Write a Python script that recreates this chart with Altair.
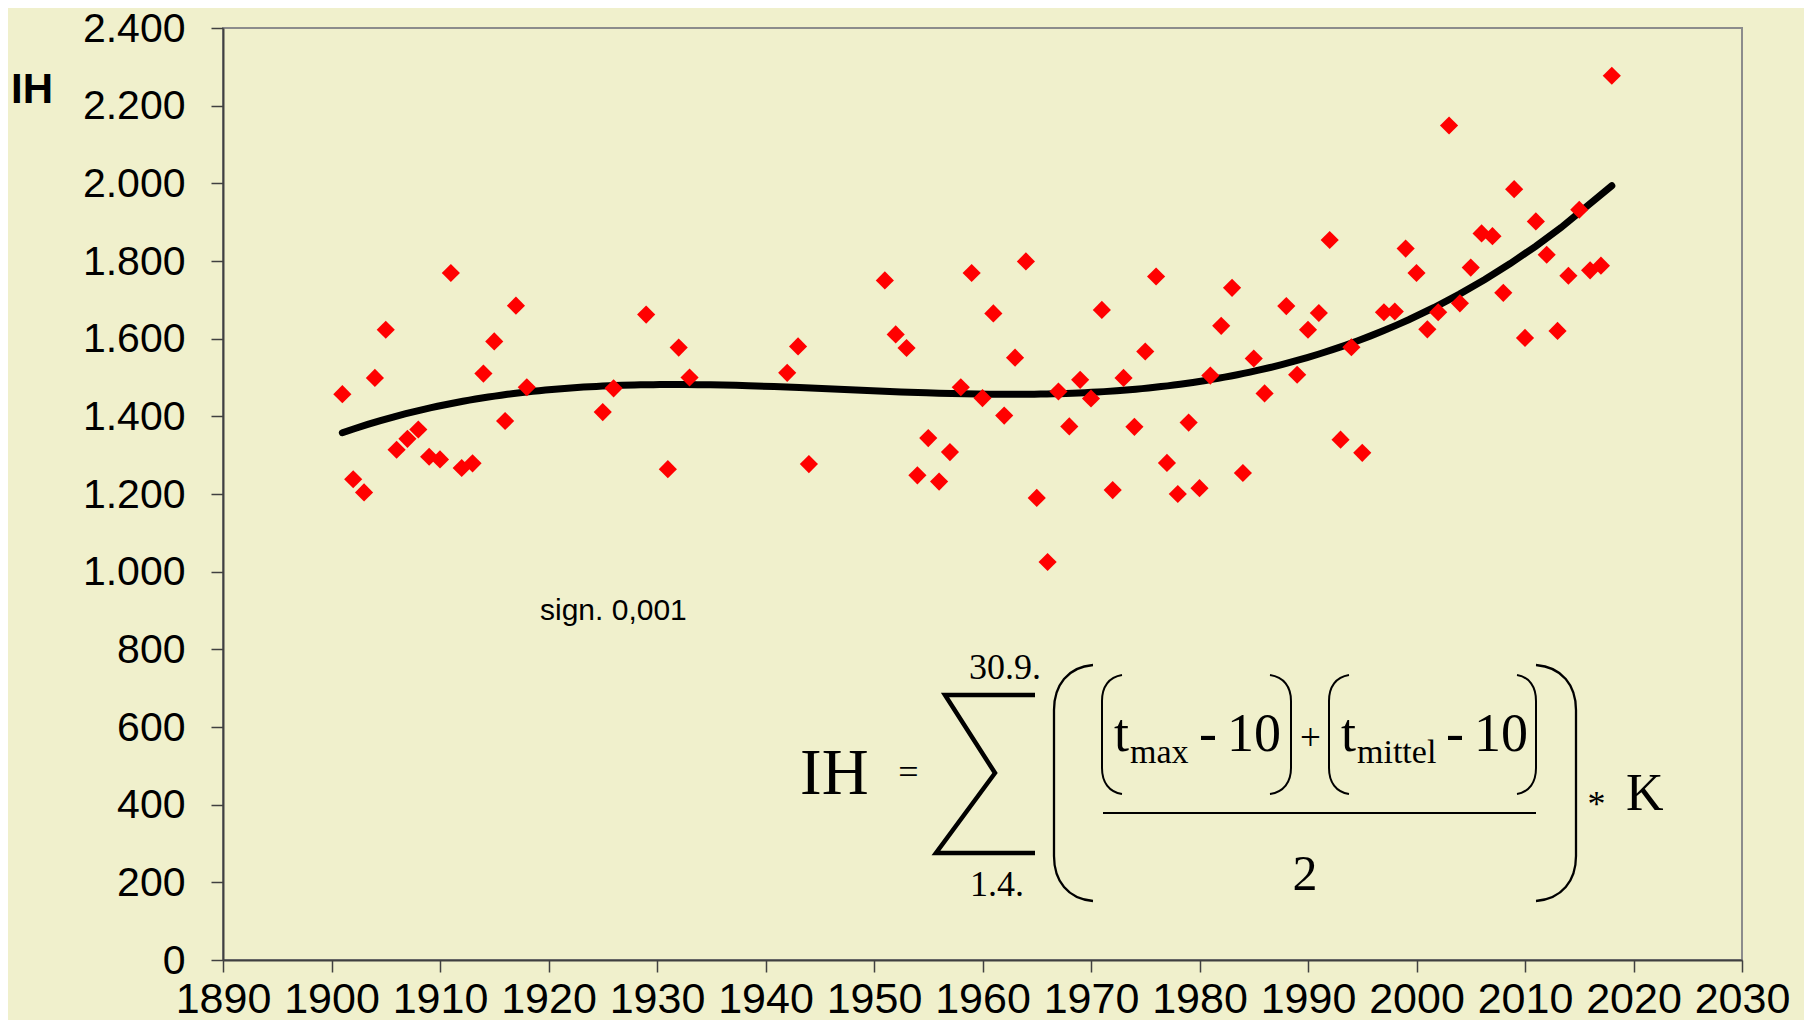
import altair as alt
import pandas as pd

# ---------------- data ----------------
years = [1901, 1902, 1903, 1904, 1905, 1906, 1907, 1908, 1909, 1910,
         1911, 1912, 1913, 1914, 1915, 1916, 1917, 1918, 1925, 1926,
         1929, 1931, 1932, 1933, 1942, 1943, 1944, 1951, 1952, 1953,
         1954, 1955, 1956, 1957, 1958, 1959, 1960, 1961, 1962, 1963,
         1964, 1965, 1966, 1967, 1968, 1969, 1970, 1971, 1972, 1973,
         1974, 1975, 1976, 1977, 1978, 1979, 1980, 1981, 1982, 1983,
         1984, 1985, 1986, 1988, 1989, 1990, 1991, 1992, 1993, 1994,
         1995, 1997, 1998, 1999, 2000, 2001, 2002, 2003, 2004, 2005,
         2006, 2007, 2008, 2009, 2010, 2011, 2012, 2013, 2014, 2015,
         2016, 2017, 2018]
ih_values = [1457, 1238, 1204, 1499, 1623, 1314, 1342, 1366, 1296, 1289,
             1769, 1267, 1279, 1510, 1593, 1388, 1685, 1475, 1411, 1472,
             1662, 1264, 1577, 1500, 1512, 1580, 1277, 1750, 1611, 1576,
             1248, 1344, 1232, 1308, 1475, 1769, 1447, 1665, 1402, 1551,
             1799, 1190, 1025, 1464, 1374, 1494, 1446, 1674, 1210, 1499,
             1373, 1567, 1760, 1280, 1200, 1384, 1215, 1505, 1633, 1731,
             1254, 1549, 1459, 1684, 1507, 1623, 1666, 1854, 1340, 1578,
             1306, 1668, 1670, 1832, 1769, 1624, 1668, 2149, 1691, 1783,
             1871, 1864, 1718, 1985, 1602, 1902, 1816, 1620, 1762, 1932,
             1776, 1788, 2277]

x_ticks = list(range(1890, 2031, 10))
y_ticks = list(range(0, 2401, 200))
y_label_text = "IH"
sign_text = "sign. 0,001"

# ---------------- layout / style ----------------
BG = "#F0F0CC"
W, H = 1519, 932
PAD = {"left": 215, "top": 20, "right": 62, "bottom": 60}
OX, OY = 8 + PAD["left"], 8 + PAD["top"]   # page position of plot origin
DY = OY - 25  # shift of annotations relative to reference positions

df = pd.DataFrame({"year": years, "ih": ih_values})

x_scale = alt.Scale(domain=[1890, 2030], nice=False, zero=False)
y_scale = alt.Scale(domain=[0, 2400], nice=False)

x_axis = alt.Axis(values=x_ticks, format="d", title=None, grid=False,
                  labelFont="Liberation Sans Narrow, Arial Narrow, Liberation Sans",
                  labelFontSize=43, labelColor="black", labelPadding=6,
                  tickSize=12, tickWidth=1.5, tickColor="#404040",
                  domainColor="#404040", domainWidth=2,
                  labelOverlap=False, labelFlush=False, labelBound=False)
y_axis = alt.Axis(values=y_ticks, title=None, grid=False,
                  labelExpr="replace(format(datum.value, ','), ',', '.')",
                  labelFont="Liberation Sans", labelFontSize=41,
                  labelColor="black", labelPadding=26, labelOffset=1,
                  tickSize=12, tickWidth=1.5, tickColor="#404040",
                  domainColor="#404040", domainWidth=2,
                  labelOverlap=False, labelFlush=False, labelBound=False)

base = alt.Chart(df)

points = base.mark_point(shape="diamond", filled=True, color="#FF0000",
                         size=330, opacity=1, strokeWidth=0).encode(
    x=alt.X("year:Q", scale=x_scale, axis=x_axis),
    y=alt.Y("ih:Q", scale=y_scale, axis=y_axis),
)

trend = base.transform_regression(
    "year", "ih", method="poly", order=3
).mark_line(color="black", strokeWidth=7, strokeCap="round").encode(
    x=alt.X("year:Q", scale=x_scale),
    y=alt.Y("ih:Q", scale=y_scale),
)

# ---------------- annotations ----------------
ann = alt.Data(values=[{"k": 0}])


def txt(s, x, y, size, font="Liberation Serif", align="left", weight="normal"):
    return alt.Chart(ann).mark_text(
        text=s, font=font, fontSize=size, align=align, baseline="alphabetic",
        fontWeight=weight, color="black"
    ).encode(x=alt.value(x - OX), y=alt.value(y + DY - OY))


def path(segs):
    out = []
    for seg in segs:
        cmd, nums = seg[0], seg[1:]
        pts = []
        for i in range(0, len(nums), 2):
            pts.append(f"{nums[i] - OX:.1f},{nums[i + 1] + DY - OY:.1f}")
        out.append(cmd + " ".join(pts))
    return " ".join(out)


def stroke_shape(p, width):
    return alt.Chart(ann).mark_point(
        shape=p, size=4, filled=False, color="black", stroke="black",
        strokeWidth=width, opacity=1, strokeJoin="miter", strokeCap="butt"
    ).encode(x=alt.value(0), y=alt.value(0))


def lparen(xv, xt, y0, y1, r):
    return path([("M", xt, y0), ("C", xv + (xt - xv) * 0.35, y0 + 2, xv, y0 + r * 0.45, xv, y0 + r),
                 ("L", xv, y1 - r),
                 ("C", xv, y1 - r * 0.45, xv + (xt - xv) * 0.35, y1 - 2, xt, y1)])


sigma = path([("M", 1035, 692), ("L", 945, 692), ("L", 995, 770),
              ("L", 936, 850), ("L", 1035, 850)])
frac = path([("M", 1103, 810), ("L", 1536, 810)])

layers = [
    trend, points,
    txt(y_label_text, 32, 100, 42, font="Liberation Sans", align="center", weight="bold"),
    txt(sign_text, 540, 617, 30, font="Liberation Sans"),
    # formula
    txt("IH", 800, 791, 65),
    txt("=", 908.5, 781, 36, align="center"),
    txt("30.9.", 1005, 676, 36, align="center"),
    txt("1.4.", 997, 893, 36, align="center"),
    txt("t", 1114, 748, 54),
    txt("max", 1130, 760, 34),
    txt("-", 1208, 748, 54, align="center"),
    txt("10", 1281, 748, 54, align="right"),
    txt("+", 1310.5, 747, 37, align="center"),
    txt("t", 1341, 748, 54),
    txt("mittel", 1357, 760, 34),
    txt("-", 1455, 748, 54, align="center"),
    txt("10", 1528, 748, 54, align="right"),
    txt("2", 1305, 887, 50, align="center"),
    txt("*", 1596.5, 813, 36, align="center"),
    txt("K", 1626, 807, 52),
    stroke_shape(sigma, 4.5),
    stroke_shape(frac, 2),
    stroke_shape(lparen(1054, 1093, 662, 898, 45), 2.3),
    stroke_shape(lparen(1576, 1536, 662, 898, 45), 2.3),
    stroke_shape(lparen(1102, 1122, 672, 791, 26), 2),
    stroke_shape(lparen(1291, 1270, 672, 791, 26), 2),
    stroke_shape(lparen(1329, 1349, 672, 791, 26), 2),
    stroke_shape(lparen(1536, 1517, 672, 791, 26), 2),
]

chart = alt.layer(*layers).properties(
    width=W, height=H, padding=PAD, background=BG,
    autosize=alt.AutoSizeParams(type="none"),
).configure_view(
    stroke="#8C8C8C", strokeWidth=2, fill=BG
)

chart.save("out.html", embed_options={"renderer": "svg", "actions": False})
